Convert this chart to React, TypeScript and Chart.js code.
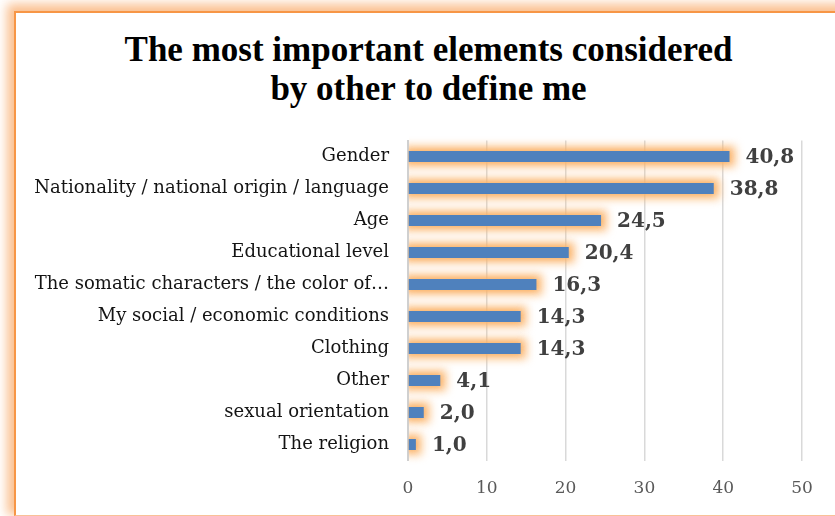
import React, { useEffect, useRef } from "react";
import { Chart, registerables } from "chart.js";

Chart.register(...registerables);

const titleLines = ["The most important elements considered", "by other to define me"];

const categories = [
  "Gender",
  "Nationality / national origin / language",
  "Age",
  "Educational level",
  "The somatic characters / the color of…",
  "My social / economic conditions",
  "Clothing",
  "Other",
  "sexual orientation",
  "The religion",
];

const values = [40.8, 38.8, 24.5, 20.4, 16.3, 14.3, 14.3, 4.1, 2.0, 1.0];

const xMin = 0;
const xMax = 50;
const xStep = 10;

const fmt = (v: number) => v.toFixed(1).replace(".", ",");

const glowPlugin = {
  id: "barGlow",
  beforeDatasetsDraw(chart: any) {
    const ctx = chart.ctx;
    const area = chart.chartArea;
    const meta = chart.getDatasetMeta(0);
    ctx.save();
    ctx.beginPath();
    ctx.rect(area.left + 1, area.top - 20, area.right - area.left + 40, area.bottom - area.top + 40);
    ctx.clip();
    ctx.filter = "blur(4px)";
    ctx.fillStyle = "rgba(252,185,115,0.85)";
    meta.data.forEach((el: any) => {
      const h = el.height;
      const x0 = Math.min(el.base, el.x);
      const w = Math.abs(el.x - el.base);
      ctx.fillRect(x0 - 6, el.y - h / 2 - 5, w + 12, h + 10);
    });
    ctx.restore();
    ctx.save();
    ctx.shadowColor = "rgba(251,172,90,0.9)";
    ctx.shadowBlur = 6;
    ctx.shadowOffsetX = 0;
    ctx.shadowOffsetY = 0;
  },
  afterDatasetsDraw(chart: any) {
    const ctx = chart.ctx;
    ctx.restore();
    ctx.save();
    ctx.font = "bold 20px 'DejaVu Serif'";
    ctx.fillStyle = "#404040";
    ctx.textAlign = "left";
    ctx.textBaseline = "middle";
    const meta = chart.getDatasetMeta(0);
    meta.data.forEach((el: any, i: number) => {
      const v = chart.data.datasets[0].data[i] as number;
      ctx.fillText(fmt(v), el.x + 16, el.y + 1);
    });
    ctx.restore();
  },
};

export default function App() {
  const ref = useRef<HTMLCanvasElement>(null);

  useEffect(() => {
    if (!ref.current) return;
    const chart = new Chart(ref.current, {
      type: "bar",
      data: {
        labels: categories,
        datasets: [
          {
            data: values,
            backgroundColor: "#4F81BD",
            borderWidth: 0,
            barPercentage: 0.35,
            categoryPercentage: 1,
            clip: { left: 0, top: 30, right: 40, bottom: 30 } as any,
          },
        ],
      },
      options: {
        indexAxis: "y",
        animation: false,
        responsive: false,
        devicePixelRatio: 1,
        layout: { padding: { left: 0, right: 33, top: 140.5, bottom: 18 } },
        plugins: {
          legend: { display: false },
          tooltip: { enabled: false },
          title: { display: false },
        },
        scales: {
          x: {
            type: "linear",
            min: xMin,
            max: xMax,
            ticks: {
              stepSize: xStep,
              color: "#595959",
              font: { family: "'DejaVu Serif'", size: 17 },
              padding: 18,
            },
            grid: { color: "#D9D9D9", lineWidth: 1.5, drawTicks: false },
            border: { display: false },
            afterFit: (scale: any) => {
              scale.height = 37.5;
              scale.paddingLeft = 0;
              scale.paddingRight = 0;
              scale.paddingTop = 0;
              scale.paddingBottom = 0;
            },
          },
          y: {
            type: "category",
            ticks: {
              color: "#141414",
              font: { family: "'DejaVu Serif'", size: 18 },
              padding: 19,
              autoSkip: false,
            },
            grid: { display: false, drawTicks: false },
            border: { display: true, color: "#D0D0D0", width: 2 },
            afterFit: (scale: any) => {
              scale.width = 408;
              scale.paddingTop = 0;
              scale.paddingBottom = 0;
              scale.paddingLeft = 0;
              scale.paddingRight = 0;
            },
          },
        },
      },
      plugins: [glowPlugin],
    });
    return () => chart.destroy();
  }, []);

  return (
    <div
      style={{
        position: "fixed",
        left: 0,
        top: 0,
        width: 835,
        height: 516,
        overflow: "hidden",
        background: "#ffffff",
      }}
    >
      <div
        style={{
          position: "absolute",
          left: 14,
          top: 11,
          width: 900,
          height: 502,
          borderLeft: "2px solid #F79646",
          borderTop: "2px solid #F79646",
          borderBottom: "1px solid #F9C198",
          background: "#ffffff",
          boxShadow: "-4px -4px 10px 3px rgba(247,150,70,0.6)",
        }}
      />
      <div
        style={{
          position: "absolute",
          left: 0,
          top: 31,
          width: 857,
          textAlign: "center",
          fontFamily: "'Liberation Serif'",
          fontWeight: "bold",
          fontSize: 35,
          lineHeight: "38.5px",
          color: "#000000",
          whiteSpace: "nowrap",
        }}
      >
        {titleLines.map((t, i) => (
          <div key={i}>{t}</div>
        ))}
      </div>
      <canvas
        ref={ref}
        width={835}
        height={516}
        style={{ position: "absolute", left: 0, top: 0, width: 835, height: 516 }}
      />
    </div>
  );
}
